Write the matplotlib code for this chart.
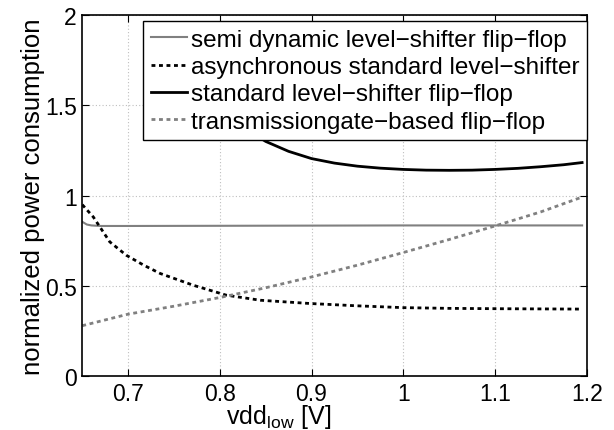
import matplotlib
matplotlib.use("Agg")
import matplotlib.pyplot as plt

plt.rcParams['font.family'] = ['Liberation Sans', 'DejaVu Sans']

# vdd_low sweep [V] and normalized power of the four circuits
vdd_semi = [0.65, 0.655, 0.66, 0.67, 0.7, 0.8, 0.9, 1.0, 1.1, 1.195]
p_semi = [0.855, 0.84, 0.835, 0.832, 0.832, 0.833, 0.834, 0.835, 0.835, 0.835]

vdd_async = [0.65, 0.662, 0.68, 0.698, 0.717, 0.735, 0.771, 0.807, 0.844, 0.898,
             0.95, 1.0, 1.05, 1.105, 1.15, 1.195]
p_async = [0.95, 0.882, 0.744, 0.670, 0.615, 0.569, 0.504, 0.449, 0.421, 0.403,
           0.39, 0.38, 0.376, 0.374, 0.373, 0.372]

vdd_std = [0.75, 0.775, 0.8, 0.825, 0.85, 0.875, 0.9, 0.925,
           0.95, 0.975, 1.0, 1.025, 1.05, 1.075, 1.1, 1.125, 1.15, 1.175, 1.195]
p_std = [1.85, 1.64, 1.49, 1.38, 1.30, 1.245, 1.205, 1.18,
         1.163, 1.152, 1.145, 1.141, 1.14, 1.141, 1.145, 1.151, 1.16, 1.171, 1.183]

vdd_tg = [0.65, 0.7, 0.75, 0.8, 0.85, 0.9, 0.95, 1.0, 1.05, 1.1, 1.15, 1.195]
p_tg = [0.28, 0.344, 0.388, 0.436, 0.49, 0.55, 0.615, 0.685, 0.757, 0.832, 0.91, 0.992]

fig = plt.figure(figsize=(6.14, 4.31), dpi=100)
ax = fig.add_axes([0.134, 0.1246, 0.8215, 0.8384])

gray = (0.5, 0.5, 0.5)
ax.plot(vdd_semi, p_semi, color=gray, lw=1.5, label='semi dynamic level\u2212shifter flip\u2212flop')
ax.plot(vdd_async, p_async, color='k', lw=2, linestyle=(0, (1.4, 1.3)),
        label='asynchronous standard level\u2212shifter')
ax.plot(vdd_std, p_std, color='k', lw=2, label='standard level\u2212shifter flip\u2212flop')
ax.plot(vdd_tg, p_tg, color=gray, lw=2, linestyle=(0, (1.4, 1.3)),
        label='transmissiongate\u2212based flip\u2212flop')

ax.set_xlim(0.65, 1.2)
ax.set_ylim(0, 2)
ax.set_xticks([0.7, 0.8, 0.9, 1.0, 1.1, 1.2])
ax.set_xticklabels(['0.7', '0.8', '0.9', '1', '1.1', '1.2'])
ax.set_yticks([0, 0.5, 1, 1.5, 2])
ax.set_yticklabels(['0', '0.5', '1', '1.5', '2'])
ax.tick_params(direction='in', top=True, right=True, labelsize=16.5, length=5, pad=4)
ax.grid(True, linestyle=(0, (1, 2)), color=(0.75, 0.75, 0.75), lw=0.8)
for s in ax.spines.values():
    s.set_linewidth(1.2)

ax.set_xlabel('vdd$_\\mathregular{low}$ [V]', fontsize=18)
ax.xaxis.set_label_coords(0.39, -0.07)
ax.set_ylabel('normalized power consumption', fontsize=18.5, labelpad=0)

leg = ax.legend(loc='upper right', bbox_to_anchor=(1.0, 0.982), fontsize=17.5,
                frameon=True, fancybox=False, framealpha=1, edgecolor='k',
                handlelength=1.5, handletextpad=0.15, borderpad=0.3,
                labelspacing=0.22, borderaxespad=0.0)
leg.get_frame().set_linewidth(1.0)

fig.savefig('out.png', dpi=100)
